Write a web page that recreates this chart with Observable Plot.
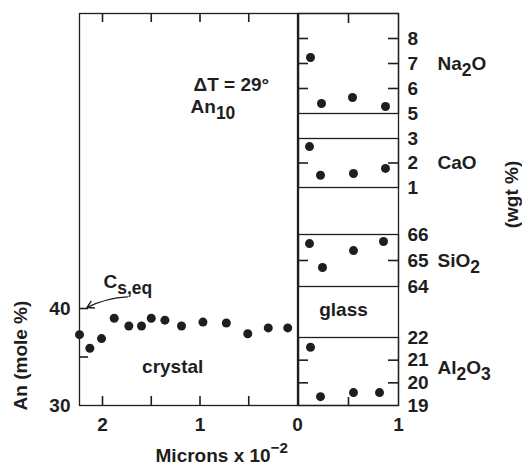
<!DOCTYPE html>
<html><head><meta charset="utf-8">
<script src="https://cdn.jsdelivr.net/npm/d3@7"></script>
<script src="https://cdn.jsdelivr.net/npm/@observablehq/plot@0.6"></script>
<style>
body{margin:0;background:#fff;}
#chart{position:relative;width:522px;height:466px;}
#chart svg{position:absolute;left:0;top:0;overflow:visible;background:transparent;}
</style></head><body><div id="chart"></div>
<script>
// ---- data ----
// crystal: distance (microns x 10^-2) vs An (mole %)
const crystalX  = [2.236, 2.13, 2.01, 1.88, 1.73, 1.60, 1.50, 1.36, 1.19, 0.97, 0.73, 0.51, 0.30, 0.10];
const crystalAn = [37.3, 35.9, 36.9, 39.0, 38.2, 38.2, 39.0, 38.8, 38.2, 38.6, 38.5, 37.4, 38.0, 38.0];
// glass: distance (microns x 10^-2) vs wgt %
const na2oX  = [0.12, 0.23, 0.54, 0.87];
const na2oV  = [7.24, 5.40, 5.64, 5.28];
const caoX   = [0.11, 0.22, 0.55, 0.87];
const caoV   = [2.67, 1.50, 1.57, 1.78];
const sio2X  = [0.11, 0.24, 0.55, 0.85];
const sio2V  = [65.65, 64.73, 65.38, 65.73];
const al2o3X = [0.12, 0.22, 0.55, 0.81];
const al2o3V = [21.57, 19.39, 19.57, 19.57];
// ticks and labels
const leftYTickMarks = [35, 40];
const leftYTickLabels = [30, 40];
const leftXTickMarks = [2, 1.5, 1, 0.5];
const leftXTickLabels = [2, 1, 0];
const rightXTickMarks = [0.5];
const rightXTickLabels = [1];
const panelNames = ["Na_{2}O", "CaO", "SiO_{2}", "Al_{2}O_{3}"];
const panelDomains = [[5, 9], [1, 3], [64, 66], [19, 22]];
const panelInnerTicks = [[6, 7, 8], [2], [65], [20, 21]];
const panelTickLabels = [[5, 6, 7, 8], [1, 2, 3], [64, 65, 66], [19, 20, 21, 22]];
const panelLabelAt = [7, 2, 65, 20.65];
const panelXs = [na2oX, caoX, sio2X, al2o3X];
const panelVs = [na2oV, caoV, sio2V, al2o3V];

// ---- layout ----
const W = 522, H = 466, ink = "#1e1e1e";
const FS = 19;
const style = {fontFamily: "'Liberation Sans', Arial, sans-serif", fontSize: FS + "px", fontWeight: "bold", color: ink, background: "transparent", overflow: "visible"};
const frameTop = 13, frameBottom = 405;
const leftL = 79, splitX = 297, rightR = 398;
const panelPix = [[13, 113], [138, 187], [234, 286], [337, 405]];
const fmt = d3.format("d");
const TW = 1.6; // tick stroke width

function richText(svg) {
  d3.select(svg).selectAll("text").each(function () {
    const s = this.textContent;
    if (!/[_^]\{/.test(s)) return;
    const parts = s.split(/([_^]\{[^}]*\})/).filter(p => p);
    const sel = d3.select(this);
    sel.text(null);
    let shift = 0;
    for (const p of parts) {
      const m = p.match(/^([_^])\{(.*)\}$/);
      const t = sel.append("tspan");
      if (m) {
        const target = m[1] === "_" ? 6 : -9;
        t.attr("dy", target - shift).attr("font-size", m[1] === "_" ? FS * 0.92 : FS * 0.8).text(m[2]);
        shift = target;
      } else {
        t.attr("dy", -shift).text(p);
        shift = 0;
      }
    }
  });
  return svg;
}

const chart = document.getElementById("chart");
const id = d => d;
// inward tick marks: ticks spanning the frame, trimmed by insets to a short length
const ticksLeft   = (vals, fw, len) => Plot.tickY(vals, {y: id, insetRight: fw - len, stroke: ink, strokeWidth: TW});
const ticksRight  = (vals, fw, len) => Plot.tickY(vals, {y: id, insetLeft: fw - len, stroke: ink, strokeWidth: TW});
const ticksBottom = (vals, fh, len) => Plot.tickX(vals, {x: id, insetTop: fh - len, stroke: ink, strokeWidth: TW});
const ticksTop    = (vals, fh, len) => Plot.tickX(vals, {x: id, insetBottom: fh - len, stroke: ink, strokeWidth: TW});

// ---- crystal panel ----
const crystal = crystalX.map((x, i) => ({x, an: crystalAn[i]}));
const lfw = splitX - leftL, fh = frameBottom - frameTop;
const leftPlot = Plot.plot({
  width: W, height: H,
  marginLeft: leftL, marginRight: W - splitX, marginTop: frameTop, marginBottom: H - frameBottom,
  x: {domain: [2.236, 0], label: null},
  y: {domain: [30, 30 + (frameBottom - frameTop) / 9.7], label: null},
  style,
  marks: [
    Plot.frame({stroke: ink, strokeWidth: 1.3}),
    ticksLeft(leftYTickMarks, lfw, 9),
    ticksBottom(leftXTickMarks, fh, 9),
    ticksTop(leftXTickMarks, fh, 9),
    Plot.axisY({ticks: leftYTickLabels, tickSize: 0, tickPadding: 9, tickFormat: fmt, fill: ink}),
    Plot.axisX({anchor: "bottom", ticks: leftXTickLabels, tickSize: 0, tickPadding: 12, tickFormat: fmt, fill: ink}),
    Plot.dot(crystal, {x: "x", y: "an", r: 4.5, fill: ink}),
    Plot.arrow([{x1: 1.744, y1: 41.2, x2: 2.16, y2: 40.1}], {x1: "x1", y1: "y1", x2: "x2", y2: "y2", bend: -12, headLength: 8, stroke: ink, strokeWidth: 1.4}),
    Plot.text([{t: "C_{s,eq}", x: 1.99, y: 42.7}], {x: "x", y: "y", text: "t", textAnchor: "start", fill: ink}),
    Plot.text([{t: "ΔT = 29°", x: 1.067, y: 63.1}], {x: "x", y: "y", text: "t", textAnchor: "start", fill: ink}),
    Plot.text([{t: "An_{10}", x: 1.097, y: 60.8}], {x: "x", y: "y", text: "t", textAnchor: "start", fill: ink}),
    Plot.text([{t: "crystal", x: 1.28, y: 34.0}], {x: "x", y: "y", text: "t", fill: ink}),
    Plot.text([{t: "An (mole %)", y: 35.15}], {frameAnchor: "left", y: "y", text: "t", rotate: -90, dx: -59, textAnchor: "middle", lineAnchor: "middle", fill: ink}),
    Plot.text([{t: "Microns x 10^{−2}", x: 1.456}], {frameAnchor: "bottom", x: "x", text: "t", textAnchor: "start", lineAnchor: "middle", dy: 50, fill: ink})
  ]
});
chart.appendChild(richText(leftPlot));

// ---- glass outer frame ----
const rfw = rightR - (splitX + 1);
const outer = Plot.plot({
  width: W, height: H,
  marginLeft: splitX + 1, marginRight: W - rightR, marginTop: frameTop, marginBottom: H - frameBottom,
  x: {domain: [0, 1], label: null},
  style,
  marks: [
    Plot.frame({stroke: ink, strokeWidth: 1.3}),
    ticksTop(rightXTickMarks, fh, 10),
    ticksBottom(rightXTickMarks, fh, 8),
    Plot.axisX({anchor: "bottom", ticks: rightXTickLabels, tickSize: 0, tickPadding: 12, tickFormat: fmt, fill: ink}),
    Plot.text([{t: "glass", x: 0.45}], {frameAnchor: "top", x: "x", text: "t", dy: 296, lineAnchor: "middle", fill: ink}),
    Plot.text(["(wgt %)"], {frameAnchor: "top-right", dx: 113, dy: 181, rotate: -90, textAnchor: "middle", lineAnchor: "middle", fill: ink})
  ]
});
chart.appendChild(richText(outer));

// ---- glass oxide sub-panels ----
panelNames.forEach((name, k) => {
  const [top, bottom] = panelPix[k];
  const pts = panelXs[k].map((x, i) => ({x, v: panelVs[k][i]}));
  const p = Plot.plot({
    width: W, height: H,
    marginLeft: splitX + 1, marginRight: W - rightR, marginTop: top, marginBottom: H - bottom,
    x: {domain: [0, 1], label: null, axis: null},
    y: {domain: panelDomains[k], label: null},
    style,
    marks: [
      Plot.frame({stroke: ink, strokeWidth: 1.3}),
      ticksLeft(panelInnerTicks[k], rfw, 10),
      ticksRight(panelInnerTicks[k], rfw, 10),
      Plot.axisY({anchor: "right", ticks: panelTickLabels[k], tickSize: 0, tickPadding: 9, tickFormat: fmt, fill: ink}),
      Plot.dot(pts, {x: "x", y: "v", r: 4.5, fill: ink}),
      Plot.text([{t: name, v: panelLabelAt[k]}], {frameAnchor: "right", y: "v", text: "t", textAnchor: "start", dx: 39, fill: ink})
    ]
  });
  chart.appendChild(richText(p));
});
</script></body></html>
